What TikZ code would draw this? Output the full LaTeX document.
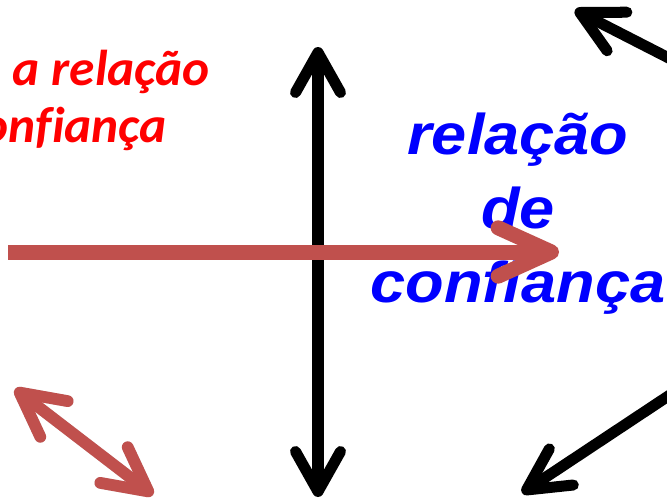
\documentclass[tikz,border=0pt]{standalone}
\usepackage{fontspec}
\usetikzlibrary{arrows.meta}
\newfontfamily\calibrifont[FakeStretch=1.02,Ligatures=NoCommon]{Carlito}
\newfontfamily\arialfont[FakeStretch=1.1,Ligatures=NoCommon]{Liberation Sans}
\definecolor{arrowred}{HTML}{C0504D}

\begin{document}
\begin{tikzpicture}[
    x=0.03cm,
    y=-0.03cm,
    redlabel/.style={
        text=red,
        font=\calibrifont\bfseries\itshape\fontsize{43}{49}\selectfont,
        inner sep=0pt
    },
    bluelabel/.style={
        text=blue,
        font=\arialfont\bfseries\itshape\fontsize{49}{63}\selectfont,
        align=center,
        inner sep=0pt
    },
    blackarrow/.style={
        line width=9.4pt,
        draw=black,
        arrows={Straight Barb[round,length=1.2cm,width=1.35cm]-Straight Barb[round,length=1.2cm,width=1.35cm]}
    },
    blackpointer/.style={
        line width=9.4pt,
        draw=black,
        -{Straight Barb[round,length=1.25cm,width=1.3cm]}
    },
    redarrow/.style={
        line width=12.8pt,
        draw=arrowred,
        -{Straight Barb[round,length=1.6cm,width=1.45cm]}
    },
    reddouble/.style={
        line width=10pt,
        draw=arrowred,
        {Straight Barb[round,length=1.3cm,width=1.35cm]}-{Straight Barb[round,length=1.3cm,width=1.35cm]}
    }
]
\useasboundingbox (0,0) rectangle (667,501);

% pontos das setas
\coordinate (vtop) at (318,47);
\coordinate (vbot) at (318,497);
\coordinate (hstart) at (8,252);
\coordinate (hend) at (559,252);
\coordinate (dtop) at (15,389);
\coordinate (dbot) at (153,495);
\coordinate (brstart) at (700,375);
\coordinate (brend) at (522,493);
\coordinate (trstart) at (700,74);
\coordinate (trend) at (575,10);

% textos
\node[redlabel, anchor=base east] (semA) at (210,85) {a relação};
\node[redlabel, anchor=base east] (semB) at (167,142) {confiança};
\node[bluelabel, anchor=base] (com) at (518,302) {relação\\de\\confiança};

% setas pretas
\draw[blackarrow] (vtop) -- (vbot);
\draw[blackpointer] (brstart) -- (brend);
\draw[blackpointer] (trstart) -- (trend);

% setas vermelhas
\draw[redarrow] (hstart) -- (hend);
\draw[reddouble, draw=black, opacity=0.15, shift={(3,3)}] (dtop) -- (dbot);
\draw[reddouble] (dtop) -- (dbot);

\end{tikzpicture}
\end{document}
